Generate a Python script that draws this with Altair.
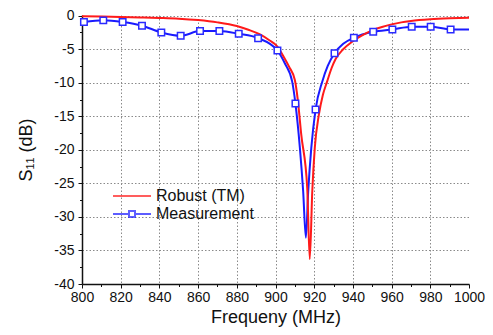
import altair as alt
import pandas as pd

# ---- data ----
robust_freq = [800, 810, 820, 830, 840, 850, 860, 870, 880, 886, 892, 897, 901, 904, 907, 910,
               911.5, 913.3, 916.4, 917.7, 919.0, 920.3, 922.4, 924.5, 926.7, 929, 931, 935,
               940, 945, 950, 955, 960, 965, 970, 980, 990, 1000]
robust_db = [-0.10, -0.14, -0.19, -0.26, -0.34, -0.45, -0.66, -1.00, -1.55, -2.1, -2.8, -3.7,
             -4.6, -6.0, -7.6, -9.6, -12.5, -17.7, -25.7, -36.3, -26.2, -19.7, -14.8, -11.8,
             -9.8, -7.8, -6.5, -5.0, -3.8, -2.9, -2.2, -1.7, -1.3, -1.0, -0.8, -0.55, -0.4, -0.3]

meas_freq = [801, 811, 821, 831, 841, 851, 861, 871, 881, 891, 901, 905, 908.6, 910.3, 912.6,
             914.3, 915.7, 916.9, 918.5, 920.7, 924.2, 927, 930.5, 935, 940.5, 950.5, 960.4,
             970.4, 980.2, 990.5, 1000]
meas_db = [-0.96, -0.7, -0.96, -1.5, -2.5, -3.0, -2.3, -2.3, -2.7, -3.35, -5.2, -7.2, -9.8,
           -13.1, -19.7, -26.2, -33.1, -26.2, -19.7, -14.0, -9.8, -7.5, -5.6, -4.2, -3.3, -2.4,
           -2.05, -1.65, -1.65, -2.05, -2.05]

marker_freq = [801, 811, 821, 831, 841, 851, 861, 871, 881, 891, 901, 910.3, 920.7, 930.5,
               940.5, 950.5, 960.4, 970.4, 980.2, 990.5]
marker_db = [-0.96, -0.7, -0.96, -1.5, -2.5, -3.0, -2.3, -2.3, -2.7, -3.35, -5.2, -13.1, -14.0,
             -5.6, -3.3, -2.4, -2.05, -1.65, -1.65, -2.05]

series_names = ["Robust (TM)", "Measurement"]
series_colors = ["#ff1a1a", "#1a1aff"]

x_major = [800, 820, 840, 860, 880, 900, 920, 940, 960, 980, 1000]
x_minor = [810, 830, 850, 870, 890, 910, 930, 950, 970, 990]
y_major = [-40, -35, -30, -25, -20, -15, -10, -5, 0]
y_minor = [-37.5, -32.5, -27.5, -22.5, -17.5, -12.5, -7.5, -2.5]

FONT = "Liberation Sans"

robust_df = pd.DataFrame({"f": robust_freq, "db": robust_db})
meas_df = pd.DataFrame({"f": meas_freq, "db": meas_db})
marker_df = pd.DataFrame({"f": marker_freq, "db": marker_db})
legend_df = pd.DataFrame({"series": series_names, "f": [900, 900], "db": [-20, -20]})

xscale = alt.Scale(domain=[800, 1000], nice=False, zero=False)
yscale = alt.Scale(domain=[-40, 0.1], nice=False, zero=False)

x_axis = alt.Axis(
    orient="bottom", values=x_major, labelExpr="datum.value + ''",
    labelOverlap=False, labelFlush=False,
    title="Frequeny (MHz)", titleFont=FONT, titleFontSize=18, titleFontWeight="normal",
    titleColor="#111", titlePadding=4,
    labelFont=FONT, labelFontSize=14, labelColor="#111", labelPadding=2,
    tickSize=4, tickColor="#111", domainColor="#111", domainWidth=1.5,
    grid=True, gridColor="#8a8a8a", gridDash=[1.5, 2], gridWidth=1,
    gridOpacity={"condition": {"test": "datum.value == 1000 || datum.value == 800", "value": 0}, "value": 1},
)
y_axis = alt.Axis(
    orient="left", values=y_major, labelExpr="datum.value + ''",
    labelOverlap=False, labelFlush=False,
    title="S₁₁ (dB)", titleFont=FONT, titleFontSize=18, titleFontWeight="normal",
    titleColor="#111", titlePadding=18,
    labelFont=FONT, labelFontSize=14, labelColor="#111", labelPadding=4,
    tickSize=4, tickColor="#111", domainColor="#111", domainWidth=1.5,
    grid=True, gridColor="#8a8a8a", gridDash=[1.5, 2], gridWidth=1,
    gridOpacity={"condition": {"test": "datum.value == -40", "value": 0}, "value": 1},
)
x_minor_axis = alt.Axis(orient="bottom", values=x_minor, labels=False, title=None, grid=False,
                        domain=False, tickSize=2.5, tickColor="#111")
y_minor_axis = alt.Axis(orient="left", values=y_minor, labels=False, title=None, grid=False,
                        domain=False, tickSize=2.5, tickColor="#111")

blue_line = alt.Chart(meas_df).mark_line(color=series_colors[1], strokeWidth=2, interpolate="monotone").encode(
    x=alt.X("f:Q", scale=xscale, axis=x_axis),
    y=alt.Y("db:Q", scale=yscale, axis=y_axis),
)
red_line = alt.Chart(robust_df).mark_line(color=series_colors[0], strokeWidth=2, interpolate="monotone").encode(
    x=alt.X("f:Q", scale=xscale, axis=None),
    y=alt.Y("db:Q", scale=yscale, axis=None),
)
markers = alt.Chart(marker_df).mark_point(shape="square", size=42, filled=True, fill="white",
                                         stroke="#2a2aff", strokeWidth=1.5, opacity=1).encode(
    x=alt.X("f:Q", scale=xscale, axis=None),
    y=alt.Y("db:Q", scale=yscale, axis=None),
)

path_robust = "M-6.33,0H6.33"
path_meas = "M-6.33,0H-1M1,0H6.33M-1,-1H1V1H-1Z"

leg = alt.Legend(orient="none", legendX=42, legendY=173, title=None, padding=0,
                 labelFont=FONT, labelFontSize=16, labelColor="#111", labelOffset=16,
                 rowPadding=2, symbolSize=36, symbolStrokeWidth=2)

legend_layer = alt.Chart(legend_df).mark_point(filled=False, size=36, strokeWidth=2).encode(
    x=alt.X("f:Q", scale=xscale, axis=x_minor_axis),
    y=alt.Y("db:Q", scale=yscale, axis=y_minor_axis),
    color=alt.Color("series:N", scale=alt.Scale(domain=series_names, range=series_colors), legend=leg),
    shape=alt.Shape("series:N", scale=alt.Scale(domain=series_names, range=[path_robust, path_meas]), legend=leg),
).transform_filter("false")

chart = alt.layer(blue_line, red_line, markers, legend_layer).resolve_axis(
    x="independent", y="independent"
).properties(
    width=387, height=269,
    padding={"left": 74, "top": 7, "right": 16, "bottom": 43},
    autosize=alt.AutoSizeParams(type="none"),
).configure_view(stroke=None)

chart.save("out.html", embed_options={"renderer": "svg", "actions": False})
